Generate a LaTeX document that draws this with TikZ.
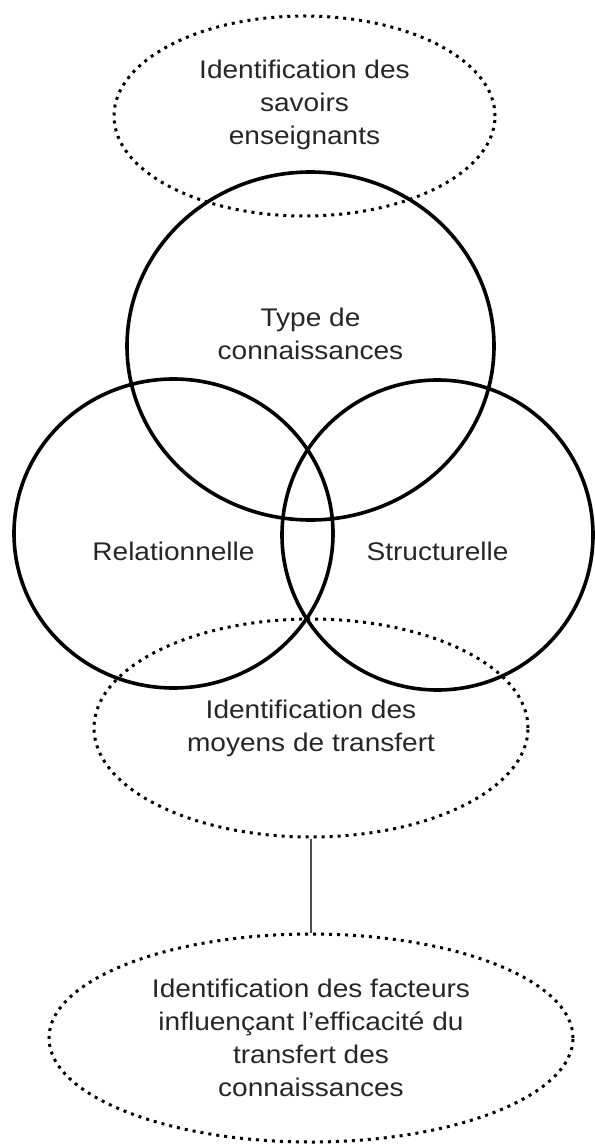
\documentclass[tikz,border=0pt]{standalone}
\usepackage{fontspec}
\setmainfont[FakeStretch=1.1]{Liberation Sans}
\usetikzlibrary{shapes.geometric}

\begin{document}
\begin{tikzpicture}[
  x=1pt, y=-1pt,
  txt/.style={align=center, text=black!85, font=\fontsize{25.5}{33}\selectfont},
  zone/.style={draw, ellipse, line width=3.6pt, inner sep=0pt, txt},
  cible/.style={draw, ellipse, line width=3pt, dash pattern=on 3pt off 5pt,
                inner sep=0pt, txt},
  lien/.style={line width=1.4pt, black!70}
]
  \useasboundingbox (0,0) rectangle (594,1147);

  \node[cible, minimum width=381pt, minimum height=200pt, text depth=27pt] (savoirs) at (304.5,116)
    {Identification des\\savoirs\\enseignants};

  % les trois cercles
  \node[zone, minimum width=367pt, minimum height=348pt, text depth=25pt] (type) at (310.5,346)
    {Type de\\connaissances};
  \node[zone, minimum width=319pt, minimum height=309pt, text height=55pt] (rel) at (173.5,533.5)
    {Relationnelle};
  \node[zone, minimum width=311pt, minimum height=310pt, text height=52pt] (struct) at (437.5,535)
    {Structurelle};

  \node[cible, minimum width=434pt, minimum height=218pt] (moyens) at (311,728)
    {Identification des\\moyens de transfert};
  \node[cible, minimum width=524pt, minimum height=208pt] (facteurs) at (311,1038)
    {Identification des facteurs\\influençant l’efficacité du\\transfert des\\connaissances};

  \draw[lien] (moyens.south) -- (facteurs.north);
\end{tikzpicture}
\end{document}
